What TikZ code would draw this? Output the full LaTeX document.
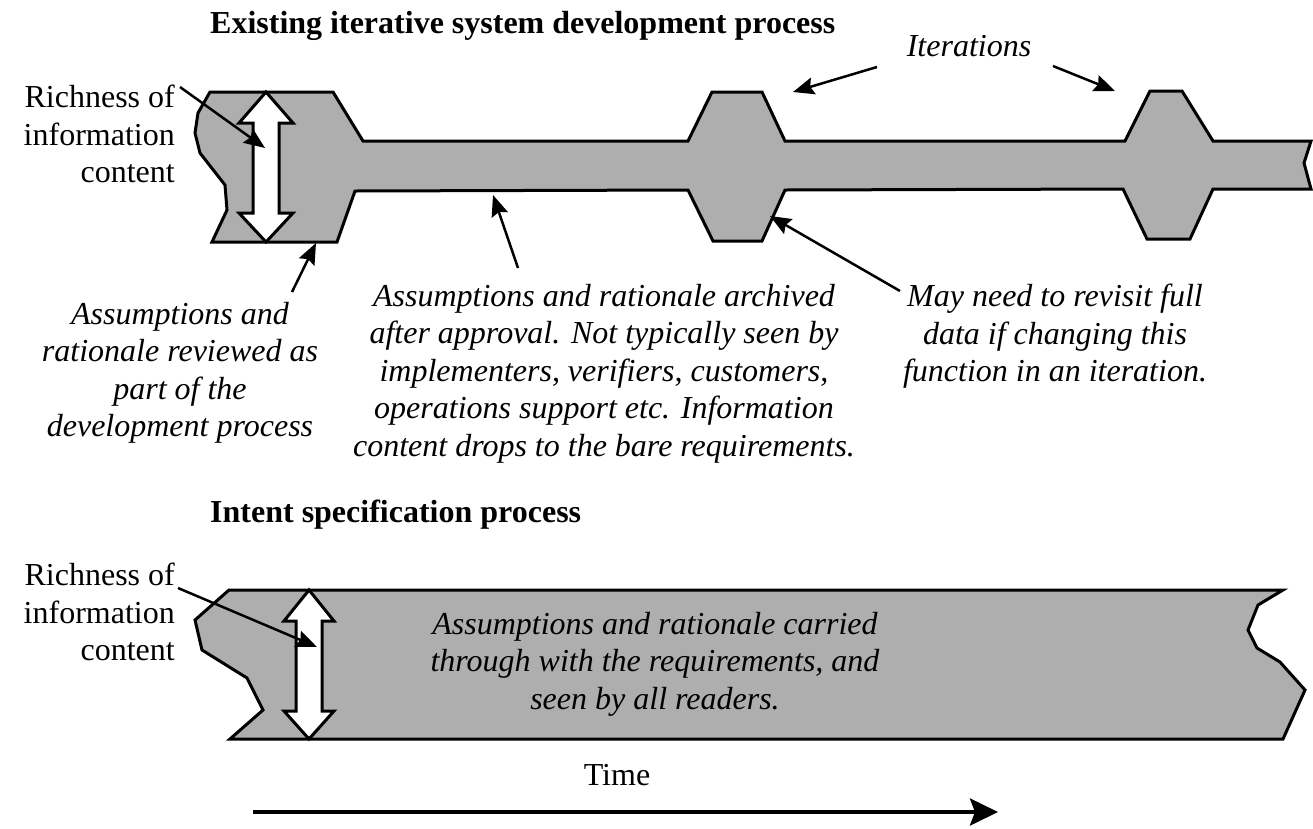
\documentclass[tikz,border=0pt]{standalone}
\usepackage{fontspec}
\setmainfont{Liberation Serif}
\usetikzlibrary{arrows.meta}
\definecolor{bandgray}{RGB}{174,174,174}

\begin{document}
\begin{tikzpicture}[x=1pt,y=-1pt,
  band/.style={draw=black, line width=3pt, line join=miter, fill=bandgray},
  dblarrow/.style={draw=black, line width=3pt, line join=miter, fill=white},
  lbl/.style={font=\fontsize{32}{37.5}\selectfont, inner sep=0pt},
  note/.style={font=\fontsize{32}{37.5}\selectfont\itshape, inner sep=0pt, align=center, anchor=north},
  heading/.style={font=\fontsize{32}{37.5}\selectfont\bfseries, inner sep=0pt, anchor=base west},
  ptr/.style={line width=2.5pt, -{Stealth[length=21pt,width=17pt,inset=3pt]}},
  timeline/.style={line width=4pt, -{Stealth[length=28pt,width=27pt,inset=5pt]}},
]
\useasboundingbox (0,0) rectangle (1313,828);

% ---- existing process: band with iteration bulges ----
\draw[band] (210,92) -- (333,92) -- (363,141) -- (688,141) -- (712,92) -- (762,92)
  -- (785,141) -- (1125,141) -- (1150,91) -- (1182,91) -- (1213,141) -- (1311,141)
  -- (1304,163) -- (1311,189) -- (1213,189) -- (1190,239) -- (1147,239) -- (1123,189)
  -- (785,190) -- (762,241) -- (713,241) -- (688,190) -- (355,191) -- (337,242)
  -- (212,242) -- (227,210) -- (225,185) -- (200,153) -- (195,133) -- (198,113) -- cycle;

\draw[dblarrow] (266,92) -- (293,123) -- (279,123) -- (279,213) -- (293,213) -- (266,242)
  -- (239,213) -- (253,213) -- (253,123) -- (239,123) -- cycle;

% ---- intent specification: band of constant width ----
\draw[band] (229,590) -- (1283,590) -- (1258,605) -- (1248,630) -- (1257,648) -- (1280,662)
  -- (1305,690) -- (1283,739) -- (230,739) -- (263,710) -- (247,678) -- (202,650)
  -- (195,620) -- cycle;

\draw[dblarrow] (309,590) -- (334,621) -- (322,621) -- (322,711) -- (334,711) -- (309,739)
  -- (284,711) -- (296,711) -- (296,621) -- (284,621) -- cycle;

% ---- texts ----
\node[heading] (title1) at (210,33) {Existing iterative system development process};
\node[note, anchor=base] (iter) at (969,56) {Iterations};
\node[lbl, align=right, anchor=north east] (rich1) at (175,85) {Richness of\\information\\content};
\node[note] (rev) at (180,302) {Assumptions and\\rationale reviewed as\\part of the\\development process};
\node[note] (arch) at (604,284) {Assumptions and rationale archived\\after approval. Not typically seen by\\implementers, verifiers, customers,\\operations support etc. Information\\content drops to the bare requirements.};
\node[note] (revisit) at (1055,284) {May need to revisit full\\data if changing this\\function in an iteration.};
\node[heading] (title2) at (210,522) {Intent specification process};
\node[lbl, align=right, anchor=north east] (rich2) at (175,563) {Richness of\\information\\content};
\node[note] (carried) at (655,612) {Assumptions and rationale carried\\through with the requirements, and\\seen by all readers.};
\node[lbl, anchor=base] (time) at (617,785) {Time};

% ---- pointer ends ----
\coordinate (r1a) at (180,87);   \coordinate (r1b) at (265,148);
\coordinate (rva) at (292,292);  \coordinate (rvb) at (316,243);
\coordinate (ara) at (518,268);  \coordinate (arb) at (493,195);
\coordinate (rsa) at (900,291);  \coordinate (rsb) at (770,216);
\coordinate (ita) at (877,67);   \coordinate (itb) at (793,92);
\coordinate (itc) at (1053,66);  \coordinate (itd) at (1115,91);
\coordinate (r2a) at (178,588);  \coordinate (r2b) at (317,647);
\coordinate (tma) at (253,812);  \coordinate (tmb) at (998,812);

\draw[ptr] (r1a) -- (r1b);
\draw[ptr] (rva) -- (rvb);
\draw[ptr] (ara) -- (arb);
\draw[ptr] (rsa) -- (rsb);
\draw[ptr] (ita) -- (itb);
\draw[ptr] (itc) -- (itd);
\draw[ptr] (r2a) -- (r2b);
\draw[timeline] (tma) -- (tmb);
\end{tikzpicture}
\end{document}
